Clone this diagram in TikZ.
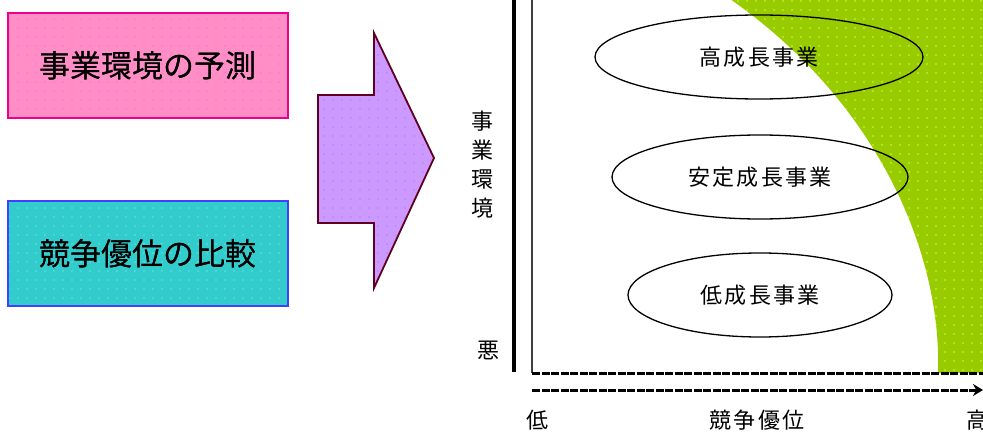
\documentclass[tikz,border=0pt]{standalone}
\usepackage{fontspec}
\newfontfamily\jp{Noto Sans CJK JP}
\newfontfamily\jpsp[LetterSpace=10]{Noto Sans CJK JP}
\usetikzlibrary{shapes.geometric,patterns.meta,arrows.meta}
\definecolor{boxpink}{HTML}{FF8EC6}
\definecolor{boxpinkdot}{HTML}{FF55DD}
\definecolor{boxcyan}{HTML}{33CCCC}
\definecolor{boxcyandot}{HTML}{88FFFF}
\definecolor{arrowpurple}{HTML}{CC99FF}
\definecolor{arrowpurpledot}{HTML}{9966FF}
\definecolor{zonegreen}{HTML}{99CC00}
\definecolor{zonegreendot}{HTML}{CCFF33}
\tikzset{
  inbox/.style={rectangle, minimum width=280pt, minimum height=105pt, inner sep=0pt,
    font=\jp\fontsize{31}{31}\selectfont},
  boxedge/.style={line width=2.2pt},
  bizell/.style={ellipse, draw=black, line width=1.3pt, inner sep=0pt,
    minimum height=84pt, font=\jpsp\fontsize{22}{22}\selectfont},
  axlabel/.style={inner sep=0pt, font=\jpsp\fontsize{22}{22}\selectfont},
  axline/.style={line width=3pt, dash pattern=on 8pt off 1.5pt},
  yaxline/.style={line width=3.4pt}
}
\begin{document}
\begin{tikzpicture}[x=1pt,y=-1pt]
\useasboundingbox (0,0) rectangle (983,433);
% left boxes
\node[inbox, fill=boxpink] (pred) at (148,65.5) {事業環境の予測};
\fill[pattern={Dots[distance=9pt,radius=0.7pt]}, pattern color=boxpinkdot] (pred.south west) rectangle (pred.north east);
\draw[boxedge, draw=magenta] (pred.south west) rectangle (pred.north east);
\node[inbox] at (pred) {事業環境の予測};
\node[inbox, fill=boxcyan] (comp) at (148,253.5) {競争優位の比較};
\fill[pattern={Dots[distance=9pt,radius=0.7pt]}, pattern color=boxcyandot] (comp.south west) rectangle (comp.north east);
\draw[boxedge, draw=blue!75] (comp.south west) rectangle (comp.north east);
\node[inbox] at (comp) {競争優位の比較};
% big arrow
\path[fill=arrowpurple] (318,95) -- (374,95) -- (374,33) -- (434,158) -- (374,288) -- (374,223) -- (318,223) -- cycle;
\path[pattern={Dots[distance=9pt,radius=0.7pt]}, pattern color=arrowpurpledot] (318,95) -- (374,95) -- (374,33) -- (434,158) -- (374,288) -- (374,223) -- (318,223) -- cycle;
\draw[black!50!purple, line width=1.8pt] (318,95) -- (374,95) -- (374,33) -- (434,158) -- (374,288) -- (374,223) -- (318,223) -- cycle;
% green zone
\fill[zonegreen] (730,-1) .. controls (875,100) and (942,250) .. (938,373) -- (984,373) -- (984,-1) -- cycle;
\fill[pattern={Dots[distance=9pt,radius=0.8pt]}, pattern color=zonegreendot] (730,-1) .. controls (875,100) and (942,250) .. (938,373) -- (984,373) -- (984,-1) -- cycle;
% plot frame
\coordinate (ftop) at (532,-2);
\coordinate (forig) at (532,373);
\coordinate (fright) at (985,373);
\draw[black!75, line width=1.8pt] (ftop) -- (forig);
\draw[axline] (forig) -- (fright);
% y axis
\coordinate (ytop) at (514,-2);
\coordinate (ybot) at (514,372);
\draw[yaxline] (ytop) -- (ybot);
% x axis
\coordinate (xleft) at (532,390);
\coordinate (xright) at (983,390);
\draw[axline] (xleft) -- ([xshift=-6pt]xright);
\draw[line width=2.6pt, -{Stealth[length=10pt,width=12pt]}] ([xshift=-8pt]xright) -- (xright);
% ellipses
\node[bizell, minimum width=328pt] (high) at (759,57) {高成長事業};
\node[bizell, minimum width=296pt] (stable) at (760,177) {安定成長事業};
\node[bizell, minimum width=264pt] (low) at (760,295) {低成長事業};
% axis labels
\node[inner sep=0pt, align=center, font=\jp\fontsize{22}{29}\selectfont] (ylab) at (482,165) {事\\業\\環\\境};
\node[axlabel] (ybad) at (488,350) {悪};
\node[axlabel] (xlow) at (537,420) {低};
\node[axlabel] (xlab) at (757,420) {競争優位};
\node[axlabel, anchor=west] (xhigh) at (966,420) {高};
\end{tikzpicture}
\end{document}
